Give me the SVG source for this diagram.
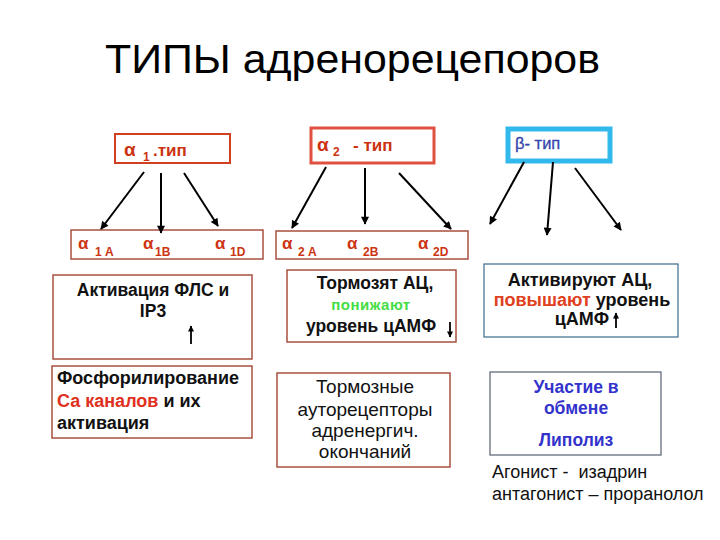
<svg xmlns="http://www.w3.org/2000/svg" width="720" height="540" viewBox="0 0 720 540">
<defs>
<marker id="ah" viewBox="0 0 10 10" refX="9" refY="5" markerWidth="10" markerHeight="8" markerUnits="userSpaceOnUse" orient="auto">
<path d="M0,0 L10,5 L0,10 z" fill="#000"/>
</marker>
<marker id="sh" viewBox="0 0 10 10" refX="9" refY="5" markerWidth="7" markerHeight="6" markerUnits="userSpaceOnUse" orient="auto">
<path d="M0,0 L10,5 L0,10 z" fill="#000"/>
</marker>
</defs>
<style>
text{font-family:"Liberation Sans",Arial,sans-serif}
.title{font-size:40px;fill:#000}
.ared{fill:#cc3311;font-weight:bold}
.al{font-size:17px}
.sub{font-size:12px}
.b{font-weight:bold;fill:#111}
.box{fill:#fff;stroke:#a85040;stroke-width:1.5}
.conn{stroke:#000;stroke-width:2;fill:none;marker-end:url(#ah)}
.small{stroke:#000;stroke-width:1.8;fill:none;marker-end:url(#sh)}
.pre{white-space:pre}
</style>
<rect width="720" height="540" fill="#fff"/>
<text class="title" x="105" y="73" textLength="495" lengthAdjust="spacingAndGlyphs">ТИПЫ адренорецепоров</text>

<g id="alpha1-type">
<rect x="115" y="134" width="115" height="29" fill="#fff" stroke="#d04020" stroke-width="2"/>
<text class="ared" x="124" y="156"><tspan font-size="19px">α</tspan><tspan class="sub" x="143" y="161">1</tspan><tspan class="al" x="153" y="156">.тип</tspan></text>
</g>
<g id="alpha2-type">
<rect x="311" y="128" width="123" height="35" fill="#fff" stroke="#e05040" stroke-width="3"/>
<text class="ared" x="317" y="151"><tspan font-size="19px">α</tspan><tspan class="sub" x="333" y="156">2</tspan><tspan class="al" x="353" y="151">- тип</tspan></text>
</g>
<g id="beta-type">
<rect x="508" y="129" width="102" height="32" fill="#fff" stroke="#33b8ec" stroke-width="5"/>
<text x="515" y="149" font-size="16.5" fill="#3344aa" stroke="#3344aa" stroke-width="0.3">β- тип</text>
</g>

<g id="alpha1-subtypes">
<rect class="box" x="71" y="230" width="192" height="29"/>
<text class="ared"><tspan class="al" x="78" y="249">α</tspan><tspan class="sub" x="95" y="256">1 A</tspan><tspan class="al" x="143" y="249">α</tspan><tspan class="sub" x="155" y="256">1B</tspan><tspan class="al" x="215" y="249">α</tspan><tspan class="sub" x="230" y="256">1D</tspan></text>
</g>
<g id="alpha2-subtypes">
<rect class="box" x="276" y="231" width="192" height="28"/>
<text class="ared"><tspan class="al" x="282" y="249">α</tspan><tspan class="sub" x="298" y="256">2 A</tspan><tspan class="al" x="347" y="249">α</tspan><tspan class="sub" x="363" y="256">2B</tspan><tspan class="al" x="418" y="249">α</tspan><tspan class="sub" x="433" y="256">2D</tspan></text>
</g>

<g id="plc">
<rect class="box" x="53" y="275" width="199" height="84" stroke="#b06050" stroke-width="1.2"/>
<text class="b" font-size="17.5" text-anchor="middle" x="153" y="296">Активация ФЛС и</text>
<text class="b" font-size="17.5" text-anchor="middle" x="153" y="317">IP3</text>
<path class="small" d="M191,344 L191,326"/>
</g>
<g id="phos">
<rect class="box" x="52" y="366" width="200" height="72" stroke="#a06060" stroke-width="1.2"/>
<text class="b" font-size="18" x="57" y="384">Фосфорилирование</text>
<text class="b" font-size="18" x="57" y="407"><tspan fill="#e03020">Са каналов</tspan> и их</text>
<text class="b" font-size="18" x="57" y="429">активация</text>
</g>

<g id="ac-inhibit">
<rect class="box" x="287" y="270" width="169" height="72" stroke="#b08070" stroke-width="1.2"/>
<text class="b" font-size="17.5" text-anchor="middle" x="375" y="289">Тормозят АЦ,</text>
<text font-size="15" font-weight="bold" text-anchor="middle" x="371" y="310" fill="#44dd44" letter-spacing="0.5">понижают</text>
<text class="b" font-size="17.5" text-anchor="middle" x="371" y="332">уровень цАМФ</text>
<path class="small" d="M450,322 L450,337"/>
</g>
<g id="autoreceptors">
<rect class="box" x="277" y="373" width="173" height="94" stroke="#a07060" stroke-width="1.2"/>
<text font-size="19" text-anchor="middle" x="365" y="393" fill="#111">Тормозные</text>
<text font-size="19" text-anchor="middle" x="365" y="416" fill="#111">ауторецепторы</text>
<text font-size="19" text-anchor="middle" x="365" y="437" fill="#111">адренергич.</text>
<text font-size="19" text-anchor="middle" x="365" y="458" fill="#111">окончаний</text>
</g>

<g id="ac-activate">
<rect x="484" y="264" width="194" height="73" fill="#fff" stroke="#3a6a8a" stroke-width="1.2"/>
<text class="b" font-size="18" text-anchor="middle" x="580" y="286">Активируют АЦ,</text>
<text class="b" font-size="18" text-anchor="middle" x="582" y="306"><tspan fill="#e04020">повышают</tspan> уровень</text>
<text class="b" font-size="18" text-anchor="middle" x="582" y="325">цАМФ</text>
<path class="small" d="M616,328 L616,313"/>
</g>
<g id="lipolysis">
<rect x="490" y="372" width="171" height="83" fill="#fff" stroke="#556070" stroke-width="1.2"/>
<text font-size="17.5" font-weight="bold" fill="#3333cc" text-anchor="middle" x="576" y="393">Участие в</text>
<text font-size="17.5" font-weight="bold" fill="#3333cc" text-anchor="middle" x="576" y="414">обмене</text>
<text font-size="17.5" font-weight="bold" fill="#3333cc" text-anchor="middle" x="576" y="446">Липолиз</text>
</g>
<g id="agonists">
<text class="pre" font-size="18" x="492" y="478" fill="#111" xml:space="preserve">Агонист -  изадрин</text>
<text font-size="18" x="492" y="500" fill="#111">антагонист – проранолол</text>
</g>

<g id="connectors">
<path class="conn" d="M144,172 L101,229"/>
<path class="conn" d="M161,173 L161,233"/>
<path class="conn" d="M184,173 L218,226"/>
<path class="conn" d="M326,167 L292,228"/>
<path class="conn" d="M365,168 L365,224"/>
<path class="conn" d="M399,173 L451,229"/>
<path class="conn" d="M524,162 L490,224"/>
<path class="conn" d="M553,162 L547,235"/>
<path class="conn" d="M575,168 L621,230"/>
</g>
</svg>
